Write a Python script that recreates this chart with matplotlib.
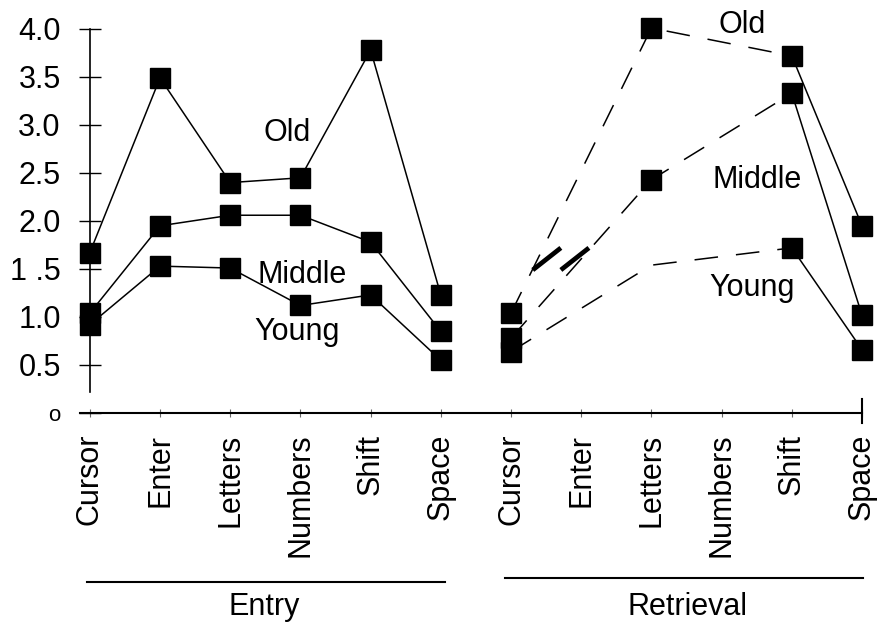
import numpy as np
import matplotlib.pyplot as plt

plt.rcParams['font.family'] = ['Liberation Sans', 'DejaVu Sans']
plt.rcParams['lines.scale_dashes'] = False

# Datos
keys = ['Cursor', 'Enter', 'Letters', 'Numbers', 'Shift', 'Space']
x_labels = keys + keys
y_ticks = [0, 0.5, 1.0, 1.5, 2.0, 2.5, 3.0, 3.5, 4.0]
y_labels = ['o', '0.5', '1.0', '1 .5', '2.0', '2.5', '3.0', '3.5', '4.0']

entry_old = [1.67, 3.49, 2.40, 2.45, 3.78, 1.23]
entry_middle = [1.04, 1.95, 2.06, 2.06, 1.78, 0.85]
entry_young = [0.92, 1.53, 1.51, 1.12, 1.23, 0.55]

# Retrieval: Enter y Numbers sin datos
retrieval_old = [1.04, np.nan, 4.01, np.nan, 3.72, 1.95]
retrieval_middle = [0.78, np.nan, 2.43, np.nan, 3.33, 1.02]
retrieval_young = [0.64, np.nan, 1.54, np.nan, 1.72, 0.66]  # Letters sin marcador visible

groups = ['Entry', 'Retrieval']

fig = plt.figure(figsize=(8.81, 6.33), dpi=100)
ax = fig.add_axes([80 / 881, 1 - 413 / 633, 782 / 881, 384 / 633])

x_entry = np.arange(6)
x_ret = np.arange(6, 12)
ms = 15
lw = 1.1

# Entry: lineas continuas
for vals in [entry_old, entry_middle, entry_young]:
    ax.plot(x_entry, vals, color='black', lw=lw, marker='s', ms=ms, clip_on=False)

# Retrieval: discontinua hasta Shift, continua hasta Space
for vals, mark in [(retrieval_old, [0, 2, 4, 5]), (retrieval_middle, [0, 2, 4, 5]),
                   (retrieval_young, [0, 4, 5])]:
    v = np.array(vals)
    idx = [0, 2, 4]
    ax.plot(x_ret[idx], v[idx], color='black', lw=lw, dashes=(17, 13), clip_on=False)
    ax.plot(x_ret[4:6], v[4:6], color='black', lw=lw, clip_on=False)
    ax.plot(x_ret[mark], v[mark], ls='none', color='black', marker='s', ms=ms, clip_on=False)

# marcas gruesas "//" entre Cursor y Enter (Retrieval)
x0 = x_ret[0]
for dx in [0.31, 0.71]:
    ax.plot([x0 + dx, x0 + dx + 0.4], [1.49, 1.72], color='black', lw=3.4,
            solid_capstyle='butt', clip_on=False)

# Etiquetas de las series
fs = 22
ax.text(2.81, 2.92, 'Old', fontsize=fs, ha='center', va='center')
ax.text(3.03, 1.44, 'Middle', fontsize=fs, ha='center', va='center')
ax.text(2.95, 0.84, 'Young', fontsize=fs, ha='center', va='center')
ax.text(9.29, 4.04, 'Old', fontsize=fs, ha='center', va='center')
ax.text(9.50, 2.43, 'Middle', fontsize=fs, ha='center', va='center')
ax.text(9.43, 1.30, 'Young', fontsize=fs, ha='center', va='center')

# Ejes
ax.set_xlim(-0.14, 11)
ax.set_ylim(0, 4.0)
ax.spines['top'].set_visible(False)
ax.spines['left'].set_position(('data', 0))
ax.spines['left'].set_bounds(0.22, 4.0)
ax.spines['left'].set_linewidth(1.2)
ax.spines['bottom'].set_linewidth(1.5)
ax.spines['right'].set_bounds(-0.1, 0.15)
ax.spines['right'].set_linewidth(1.5)

ax.set_yticks(y_ticks)
ax.set_yticklabels(y_labels, fontsize=fs)
ax.get_yticklabels()[0].set_fontsize(16)
ax.tick_params(axis='y', direction='inout', length=16, width=1.0, pad=13)

ax.set_xticks(np.arange(12))
ax.set_xticklabels(x_labels, rotation=90, fontsize=fs)
ax.tick_params(axis='x', direction='inout', length=6, width=0.8, color='0.4', pad=12)
ax.tick_params(axis='y', right=False)

# Lineas y titulos de grupo
ax.plot([-0.04, 5.06], [-1.76, -1.76], color='black', lw=1.5, clip_on=False)
ax.plot([5.91, 11.01], [-1.72, -1.72], color='black', lw=1.5, clip_on=False)
ax.text(2.49, -2.02, groups[0], fontsize=fs, ha='center', va='center')
ax.text(8.52, -2.02, groups[1], fontsize=fs, ha='center', va='center')

plt.savefig('out.png', dpi=100)
